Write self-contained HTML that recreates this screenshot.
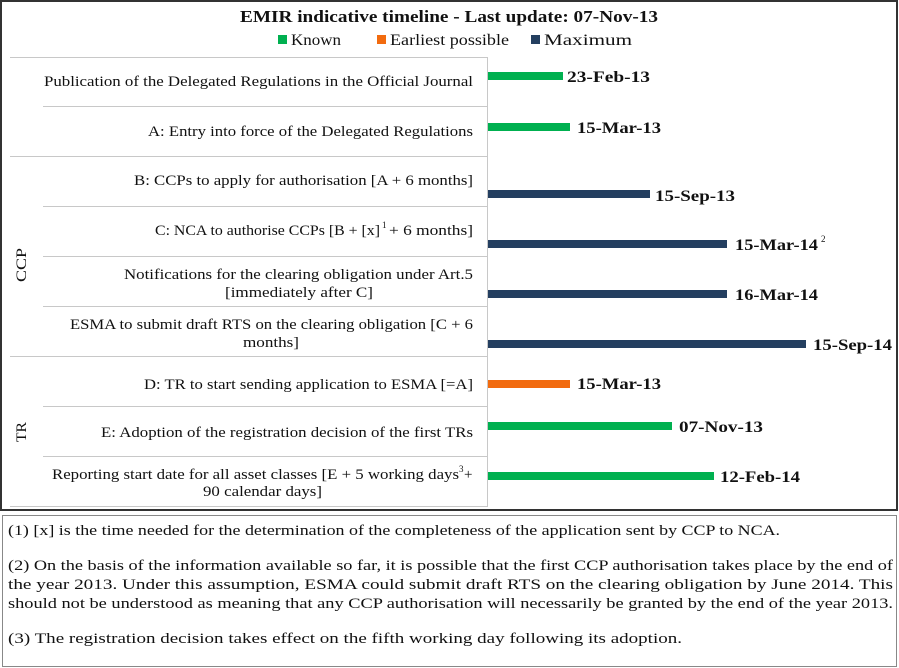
<!DOCTYPE html>
<html><head><meta charset="utf-8"><style>
html,body{margin:0;padding:0;background:#fff;width:899px;height:668px;overflow:hidden}
svg{display:block}
text{font-family:"Liberation Serif","DejaVu Serif",serif;fill:#111}
.b{font-weight:bold}
</style></head><body>
<svg width="899" height="668" viewBox="0 0 899 668">
<rect x="1" y="1" width="896" height="509" fill="#fff" stroke="#333" stroke-width="2"/>
<rect x="2.5" y="515.5" width="894" height="151" fill="#fff" stroke="#888" stroke-width="1"/>
<text x="240" y="22" class="b" font-size="17" textLength="418" lengthAdjust="spacingAndGlyphs">EMIR indicative timeline - Last update: 07-Nov-13</text>
<rect x="278" y="35" width="9" height="9" fill="#00b050"/>
<text x="291" y="45" font-size="16" textLength="50" lengthAdjust="spacingAndGlyphs">Known</text>
<rect x="377" y="35" width="9" height="9" fill="#f26b0f"/>
<text x="390" y="45" font-size="16" textLength="119" lengthAdjust="spacingAndGlyphs">Earliest possible</text>
<rect x="531" y="35" width="9" height="9" fill="#243f60"/>
<text x="544" y="45" font-size="16" textLength="88" lengthAdjust="spacingAndGlyphs">Maximum</text>
<g stroke="#c8c8c8" stroke-width="1">
<line x1="10" y1="57.5" x2="487" y2="57.5"/>
<line x1="43" y1="106.5" x2="487" y2="106.5"/>
<line x1="10" y1="156.5" x2="487" y2="156.5"/>
<line x1="43" y1="206.5" x2="487" y2="206.5"/>
<line x1="43" y1="256.5" x2="487" y2="256.5"/>
<line x1="43" y1="306.5" x2="487" y2="306.5"/>
<line x1="10" y1="356.5" x2="487" y2="356.5"/>
<line x1="43" y1="406.5" x2="487" y2="406.5"/>
<line x1="43" y1="456.5" x2="487" y2="456.5"/>
<line x1="10" y1="506.5" x2="487" y2="506.5"/>
<line x1="487.5" y1="57" x2="487.5" y2="507"/>
</g>
<g font-size="15">
<text x="44" y="86" textLength="429" lengthAdjust="spacingAndGlyphs">Publication of the Delegated Regulations in the Official Journal</text>
<text x="148" y="136" textLength="325" lengthAdjust="spacingAndGlyphs">A: Entry into force of the Delegated Regulations</text>
<text x="134" y="185" textLength="339" lengthAdjust="spacingAndGlyphs">B: CCPs to apply for authorisation [A + 6 months]</text>
<text x="155" y="235" textLength="225" lengthAdjust="spacingAndGlyphs">C: NCA to authorise CCPs [B + [x]</text>
<text x="382" y="228" font-size="9">1</text>
<text x="389" y="235" textLength="84" lengthAdjust="spacingAndGlyphs">+ 6 months]</text>
<text x="124" y="279" textLength="349" lengthAdjust="spacingAndGlyphs">Notifications for the clearing obligation under Art.5</text>
<text x="225" y="297" textLength="148" lengthAdjust="spacingAndGlyphs">[immediately after C]</text>
<text x="70" y="329" textLength="403" lengthAdjust="spacingAndGlyphs">ESMA to submit draft RTS on the clearing obligation [C + 6</text>
<text x="243" y="347" textLength="56" lengthAdjust="spacingAndGlyphs">months]</text>
<text x="144" y="389" textLength="329" lengthAdjust="spacingAndGlyphs">D: TR to start sending application to ESMA [=A]</text>
<text x="101" y="437" textLength="372" lengthAdjust="spacingAndGlyphs">E: Adoption of the registration decision of the first TRs</text>
<text x="52" y="479" textLength="407" lengthAdjust="spacingAndGlyphs">Reporting start date for all asset classes [E + 5 working days</text>
<text x="459" y="472" font-size="9">3</text>
<text x="464" y="479">+</text>
<text x="203" y="496" textLength="119" lengthAdjust="spacingAndGlyphs">90 calendar days]</text>
<text transform="translate(26,282) rotate(-90)" textLength="34" lengthAdjust="spacingAndGlyphs">CCP</text>
<text transform="translate(26,442) rotate(-90)" textLength="20" lengthAdjust="spacingAndGlyphs">TR</text>
</g>
<rect x="488" y="72" width="75" height="8" fill="#00b050"/>
<rect x="488" y="123" width="82" height="8" fill="#00b050"/>
<rect x="488" y="190" width="162" height="8" fill="#243f60"/>
<rect x="488" y="240" width="239" height="8" fill="#243f60"/>
<rect x="488" y="290" width="239" height="8" fill="#243f60"/>
<rect x="488" y="340" width="318" height="8" fill="#243f60"/>
<rect x="488" y="380" width="82" height="8" fill="#f26b0f"/>
<rect x="488" y="422" width="184" height="8" fill="#00b050"/>
<rect x="488" y="472" width="226" height="8" fill="#00b050"/>
<g class="b" font-size="16">
<text x="567" y="82" textLength="83" lengthAdjust="spacingAndGlyphs">23-Feb-13</text>
<text x="577" y="133" textLength="84" lengthAdjust="spacingAndGlyphs">15-Mar-13</text>
<text x="655" y="201" textLength="80" lengthAdjust="spacingAndGlyphs">15-Sep-13</text>
<text x="735" y="250" textLength="83" lengthAdjust="spacingAndGlyphs">15-Mar-14</text>
<text x="821" y="242" font-size="9" font-weight="normal">2</text>
<text x="735" y="300" textLength="83" lengthAdjust="spacingAndGlyphs">16-Mar-14</text>
<text x="813" y="350" textLength="79" lengthAdjust="spacingAndGlyphs">15-Sep-14</text>
<text x="577" y="389" textLength="84" lengthAdjust="spacingAndGlyphs">15-Mar-13</text>
<text x="679" y="432" textLength="84" lengthAdjust="spacingAndGlyphs">07-Nov-13</text>
<text x="720" y="482" textLength="80" lengthAdjust="spacingAndGlyphs">12-Feb-14</text>
</g>
<g font-size="15">
<text x="8" y="535" textLength="772" lengthAdjust="spacingAndGlyphs">(1) [x] is the time needed for the determination of the completeness of the application sent by CCP to NCA.</text>
<text x="8" y="570" textLength="885" lengthAdjust="spacingAndGlyphs">(2) On the basis of the information available so far, it is possible that the first CCP authorisation takes place by the end of</text>
<text x="8" y="589" textLength="885" lengthAdjust="spacingAndGlyphs">the year 2013. Under this assumption, ESMA could submit draft RTS on the clearing obligation by June 2014. This</text>
<text x="8" y="608" textLength="885" lengthAdjust="spacingAndGlyphs">should not be understood as meaning that any CCP authorisation will necessarily be granted by the end of the year 2013.</text>
<text x="8" y="643" textLength="674" lengthAdjust="spacingAndGlyphs">(3) The registration decision takes effect on the fifth working day following its adoption.</text>
</g>
</svg>
</body></html>
